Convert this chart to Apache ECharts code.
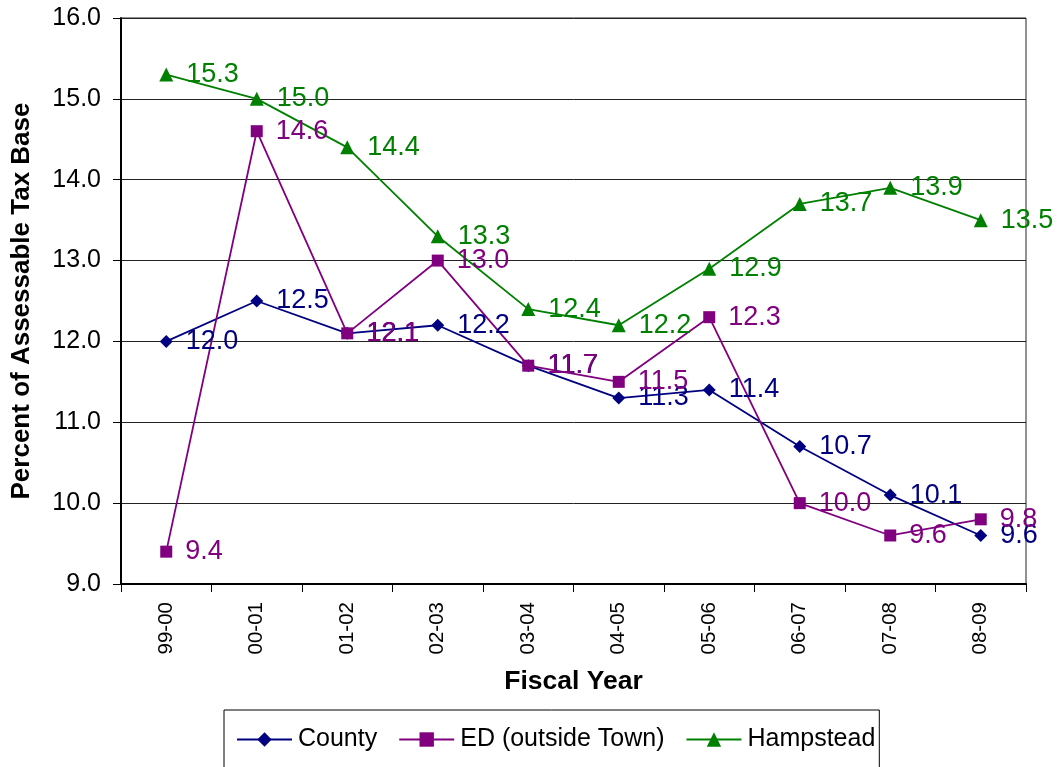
<!DOCTYPE html>
<html>
<head>
<meta charset="utf-8">
<script src="https://cdn.jsdelivr.net/npm/echarts@6/dist/echarts.min.js"></script>
<style>
html,body{margin:0;padding:0;background:#fff;}
#chart{width:1058px;height:767px;}
</style>
</head>
<body>
<div id="chart"></div>
<script>
const categories = ['99-00','00-01','01-02','02-03','03-04','04-05','05-06','06-07','07-08','08-09'];
const county = [12.0, 12.5, 12.1, 12.2, 11.7, 11.3, 11.4, 10.7, 10.1, 9.6];
const edOutside = [9.4, 14.6, 12.1, 13.0, 11.7, 11.5, 12.3, 10.0, 9.6, 9.8];
const hampstead = [15.3, 15.0, 14.4, 13.3, 12.4, 12.2, 12.9, 13.7, 13.9, 13.5];
const yTicks = [9, 10, 11, 12, 13, 14, 15, 16];

const FONT = '"Liberation Sans", Arial, sans-serif';
const chart = echarts.init(document.getElementById('chart'), null, {renderer:'canvas'});

function mkSeries(name, data, color, symbol, size) {
  return {
    name: name,
    type: 'line',
    data: data,
    symbol: symbol,
    symbolSize: size,
    showAllSymbol: true,
    lineStyle: {color: color, width: 1.8},
    itemStyle: {color: color},
    label: {
      show: true,
      position: 'right',
      distance: 13,
      color: color,
      fontFamily: FONT,
      fontSize: 27,
      formatter: p => p.value.toFixed(1)
    },
    emphasis: {disabled: true},
    animation: false
  };
}

chart.setOption({
  backgroundColor: '#fff',
  animation: false,
  grid: {
    left: 121, right: 32, top: 18, bottom: 183,
    show: true, borderColor: '#222', borderWidth: 1
  },
  xAxis: {
    type: 'category',
    data: categories,
    boundaryGap: true,
    name: 'Fiscal Year',
    nameLocation: 'middle',
    nameGap: 84,
    nameTextStyle: {fontFamily: FONT, fontSize: 26.5, fontWeight: 'bold', color: '#000'},
    axisLine: {lineStyle: {color: '#000', width: 2}},
    axisTick: {show: true, length: 8, alignWithLabel: false, lineStyle: {color: '#000'}},
    axisLabel: {rotate: 90, margin: 18, fontFamily: FONT, fontSize: 20.5, color: '#000', interval: 0},
    splitLine: {show: false}
  },
  yAxis: {
    type: 'value',
    min: 9, max: 16, interval: 1,
    name: 'Percent of Assessable Tax Base',
    nameLocation: 'middle',
    nameGap: 86,
    nameTextStyle: {fontFamily: FONT, fontSize: 26, fontWeight: 'bold', color: '#000'},
    axisLine: {show: true, lineStyle: {color: '#000', width: 2}},
    axisTick: {show: true, length: 8, lineStyle: {color: '#000'}},
    axisLabel: {
      margin: 20, fontFamily: FONT, fontSize: 25, color: '#000',
      formatter: v => yTicks.includes(v) ? v.toFixed(1) : ''
    },
    splitLine: {show: true, lineStyle: {color: '#222', width: 1}}
  },
  legend: {
    left: 224, top: 710,
    orient: 'horizontal',
    itemWidth: 55, itemHeight: 18, itemGap: 21,
    padding: [17, 4, 40, 12],
    borderColor: '#000', borderWidth: 1,
    textStyle: {fontFamily: FONT, fontSize: 25, color: '#000', padding: [0,0,0,1]},
    data: ['County', 'ED (outside Town)', 'Hampstead']
  },
  series: [
    mkSeries('County', county, '#000080', 'diamond', 13),
    mkSeries('ED (outside Town)', edOutside, '#800080', 'rect', 12),
    mkSeries('Hampstead', hampstead, '#008000', 'triangle', 14)
  ]
});
</script>
</body>
</html>
